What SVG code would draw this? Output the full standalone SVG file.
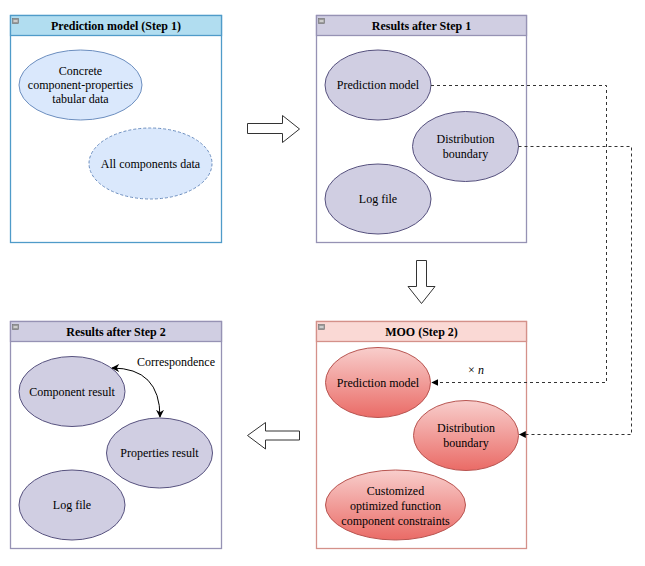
<svg xmlns="http://www.w3.org/2000/svg" width="645" height="566" viewBox="0 0 645 566">
<style>
text{font-family:"Liberation Serif","DejaVu Serif",serif;font-size:12px;fill:#000;text-anchor:middle}
.hdr{font-weight:bold}
.icon{fill:#9a9a9a;stroke:#6f6f6f;stroke-width:0.6}
.iconbar{stroke:#fff;stroke-width:1}
.blue-e{fill:#dae8fc;stroke:#6c8ebf;stroke-width:1}
.purple-e{fill:#d0cee2;stroke:#56517e;stroke-width:1}
.red-e{fill:url(#redg);stroke:#b85450;stroke-width:1}
.conn{fill:none;stroke:#333;stroke-width:1;stroke-dasharray:3 3}
.block{fill:#fff;stroke:#333;stroke-width:1}
</style>
<defs>
<linearGradient id="redg" x1="0" y1="0" x2="0" y2="1">
<stop offset="0" stop-color="#f8cecc"/>
<stop offset="1" stop-color="#ea6b66"/>
</linearGradient>
<marker id="tri" viewBox="0 0 10 10" refX="9" refY="5" markerWidth="7" markerHeight="7" orient="auto" markerUnits="userSpaceOnUse">
<path d="M0,0 L10,5 L0,10 Z" fill="#000"/>
</marker>
<marker id="tri2" viewBox="0 0 10 10" refX="9" refY="5" markerWidth="8" markerHeight="8" orient="auto-start-reverse" markerUnits="userSpaceOnUse">
<path d="M0,0 L10,5 L0,10 L3,5 Z" fill="#000"/>
</marker>
</defs>
<rect width="645" height="566" fill="#fff"/>

<g id="step1">
<rect x="10.5" y="15.5" width="211" height="227" fill="#fff" stroke="#4f9bc9" stroke-width="1.3"/>
<rect x="10.5" y="15.5" width="211" height="20" fill="#b1ddf0" stroke="#4f9bc9" stroke-width="1.3"/>
<rect class="icon" x="12.5" y="18.5" width="6" height="5"/><line class="iconbar" x1="13.5" y1="21" x2="17.5" y2="21"/>
<text class="hdr" x="116" y="30">Prediction model (Step 1)</text>
<g id="n-concrete">
<ellipse class="blue-e" cx="80.5" cy="85" rx="61.5" ry="35"/>
<text x="80.5" y="75">Concrete</text>
<text x="80.5" y="89">component-properties</text>
<text x="80.5" y="103">tabular data</text>
</g>
<g id="n-allcomp">
<ellipse class="blue-e" cx="150.5" cy="163.5" rx="61.5" ry="35.5" stroke-dasharray="3 2"/>
<text x="150.5" y="168">All components data</text>
</g>
</g>

<g id="res1">
<rect x="316.5" y="15.5" width="210" height="227" fill="#fff" stroke="#9692b4" stroke-width="1.3"/>
<rect x="316.5" y="15.5" width="210" height="20" fill="#d0cee2" stroke="#9692b4" stroke-width="1.3"/>
<rect class="icon" x="318.5" y="18.5" width="6" height="5"/><line class="iconbar" x1="319.5" y1="21" x2="323.5" y2="21"/>
<text class="hdr" x="421.5" y="30">Results after Step 1</text>
<g id="n-r1-pred">
<ellipse class="purple-e" cx="378" cy="85" rx="53" ry="35"/>
<text x="378" y="89">Prediction model</text>
</g>
<g id="n-r1-dist">
<ellipse class="purple-e" cx="465.5" cy="146.5" rx="53" ry="35"/>
<text x="465.5" y="143">Distribution</text>
<text x="465.5" y="158">boundary</text>
</g>
<g id="n-r1-log">
<ellipse class="purple-e" cx="378" cy="199" rx="53" ry="35"/>
<text x="378" y="203">Log file</text>
</g>
</g>

<g id="moo">
<rect x="316.5" y="321.5" width="210" height="227" fill="#fff" stroke="#d4918a" stroke-width="1.3"/>
<rect x="316.5" y="321.5" width="210" height="20" fill="#fad9d5" stroke="#d4918a" stroke-width="1.3"/>
<rect class="icon" x="318.5" y="324.5" width="6" height="5"/><line class="iconbar" x1="319.5" y1="327" x2="323.5" y2="327"/>
<text class="hdr" x="421.5" y="336">MOO (Step 2)</text>
<g id="n-m-pred">
<ellipse class="red-e" cx="378" cy="382.5" rx="52.5" ry="35"/>
<text x="378" y="387">Prediction model</text>
</g>
<g id="n-m-dist">
<ellipse class="red-e" cx="466" cy="435.5" rx="52.5" ry="35"/>
<text x="466" y="432">Distribution</text>
<text x="466" y="447">boundary</text>
</g>
<g id="n-m-cust">
<ellipse class="red-e" cx="395.5" cy="505" rx="70" ry="35"/>
<text x="395.5" y="495">Customized</text>
<text x="395.5" y="510">optimized function</text>
<text x="395.5" y="525">component constraints</text>
</g>
</g>

<g id="res2">
<rect x="10.5" y="321.5" width="211" height="227" fill="#fff" stroke="#9692b4" stroke-width="1.3"/>
<rect x="10.5" y="321.5" width="211" height="20" fill="#d0cee2" stroke="#9692b4" stroke-width="1.3"/>
<rect class="icon" x="12.5" y="324.5" width="6" height="5"/><line class="iconbar" x1="13.5" y1="327" x2="17.5" y2="327"/>
<text class="hdr" x="116" y="336">Results after Step 2</text>
<g id="n-r2-comp">
<ellipse class="purple-e" cx="72" cy="391.5" rx="53" ry="35"/>
<text x="72" y="396">Component result</text>
</g>
<g id="n-r2-prop">
<ellipse class="purple-e" cx="159.5" cy="453" rx="53" ry="35"/>
<text x="159.5" y="457">Properties result</text>
</g>
<g id="n-r2-log">
<ellipse class="purple-e" cx="72" cy="505" rx="53" ry="35"/>
<text x="72" y="509">Log file</text>
</g>
</g>

<g id="connectors">
<polyline class="conn" points="431,85.5 606.5,85.5 606.5,382.5 432,382.5" marker-end="url(#tri)"/>
<polyline class="conn" points="518.5,146.5 631.5,146.5 631.5,434.5 519.5,434.5" marker-end="url(#tri)"/>
<path d="M112,368 Q160,368 160,417" fill="none" stroke="#000" stroke-width="1" marker-start="url(#tri2)" marker-end="url(#tri2)"/>
<text x="176" y="366">Correspondence</text>
<text x="476" y="374">× <tspan font-style="italic">n</tspan></text>
<path class="block" d="M247.5,123.5 L282.5,123.5 L282.5,115.5 L299.5,129 L282.5,142.5 L282.5,133.5 L247.5,133.5 Z"/>
<path class="block" d="M416.5,260.5 L426.5,260.5 L426.5,286.5 L435,286.5 L421.5,303.5 L408,286.5 L416.5,286.5 Z"/>
<path class="block" d="M299.5,431 L265.5,431 L265.5,422.5 L247.5,435.5 L265.5,449 L265.5,440 L299.5,440 Z"/>
</g>
</svg>
